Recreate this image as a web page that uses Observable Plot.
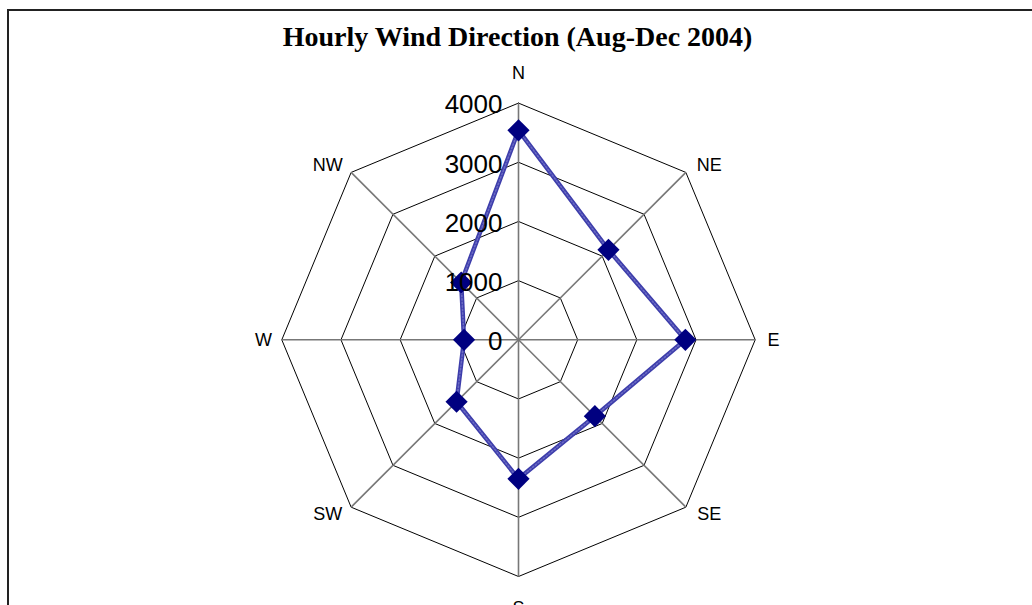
<!DOCTYPE html>
<html>
<head>
<meta charset="utf-8">
<script src="https://cdn.jsdelivr.net/npm/d3@7"></script>
<script src="https://cdn.jsdelivr.net/npm/@observablehq/plot@0.6"></script>
<style>
  html, body { margin: 0; padding: 0; background: #fff; overflow: hidden; }
  #wrap { position: relative; width: 1032px; height: 605px; }
  #border { position: absolute; left: 7px; top: 9px; right: -10px; bottom: -10px;
            border-left: 2px solid #222; border-top: 2px solid #222; }
  #chart { position: absolute; left: 0; top: 0; }
</style>
</head>
<body>
<div id="wrap"><div id="border"></div><div id="chart"></div></div>
<script>
// Data
const directions = ["N", "NE", "E", "SE", "S", "SW", "W", "NW"];
const counts = [3540, 2150, 2820, 1825, 2350, 1480, 920, 1370];
const ringTicks = [0, 1000, 2000, 3000, 4000];
const title = "Hourly Wind Direction (Aug-Dec 2004)";

// Layout
const W = 1032, H = 605;
const cx = 518, cy = 339.3;
const maxR = 4000, radiusPx = 236.7;
const k = radiusPx / maxR;

const ang = i => i * Math.PI / 4;
const pts = directions.map((d, i) => ({dir: d, value: counts[i], a: ang(i)}));
const loop = [...pts, pts[0]];
const rings = ringTicks.filter(t => t > 0).flatMap(t =>
  [...directions, directions[0]].map((d, j) => ({t, a: ang(j)})));
const isDiag = d => d.length === 2;
const fx = d => isDiag(d) ? 1.14 : 1.077;
const fy = d => isDiag(d) ? 1.04 : (d === "S" ? 1.135 : 1.127);

const chart = Plot.plot({
  width: W, height: H,
  margin: 0,
  x: {domain: [-cx / k, (W - cx) / k], range: [0, W], axis: null},
  y: {domain: [-(H - cy) / k, cy / k], range: [H, 0], axis: null},
  marks: [
    // rings (octagons)
    Plot.line(rings, {x: d => d.t * Math.sin(d.a), y: d => d.t * Math.cos(d.a), z: "t",
      stroke: "#000", strokeWidth: 1}),
    // spokes
    Plot.link(pts, {x1: 0, y1: 0, x2: d => maxR * Math.sin(d.a), y2: d => maxR * Math.cos(d.a),
      stroke: "#777", strokeWidth: 1.6}),
    // direction labels
    Plot.text(pts, {x: d => maxR * fx(d.dir) * Math.sin(d.a),
      y: d => maxR * fy(d.dir) * Math.cos(d.a), text: "dir",
      fontFamily: "Liberation Sans, Arial, sans-serif", fontSize: 18, fill: "#000"}),
    // data line
    Plot.line(loop, {x: d => d.value * Math.sin(d.a), y: d => d.value * Math.cos(d.a),
      stroke: "#3d3dab", strokeWidth: 4.5, strokeLinejoin: "miter"}),
    Plot.line(loop, {x: d => d.value * Math.sin(d.a), y: d => d.value * Math.cos(d.a),
      stroke: "#6b6bc4", strokeWidth: 1.5, strokeDasharray: "1.5 2"}),
    // markers
    Plot.dot(pts, {x: d => d.value * Math.sin(d.a), y: d => d.value * Math.cos(d.a),
      symbol: "diamond2", r: 10, fill: "#000080", stroke: "none"}),
    // radial axis labels
    Plot.text(ringTicks, {x: 0, y: d => d, text: d => String(d), textAnchor: "end",
      dx: -16, dy: 2, fontSize: 26, fontFamily: "Liberation Sans, Arial, sans-serif", fill: "#000"}),
    // title
    Plot.text([title], {frameAnchor: "top", lineAnchor: "bottom", dy: 45, dx: 1,
      fontSize: 28, fontWeight: "bold", fontFamily: "Liberation Serif, Times New Roman, serif", fill: "#000"})
  ]
});
document.getElementById("chart").appendChild(chart);
</script>
</body>
</html>
